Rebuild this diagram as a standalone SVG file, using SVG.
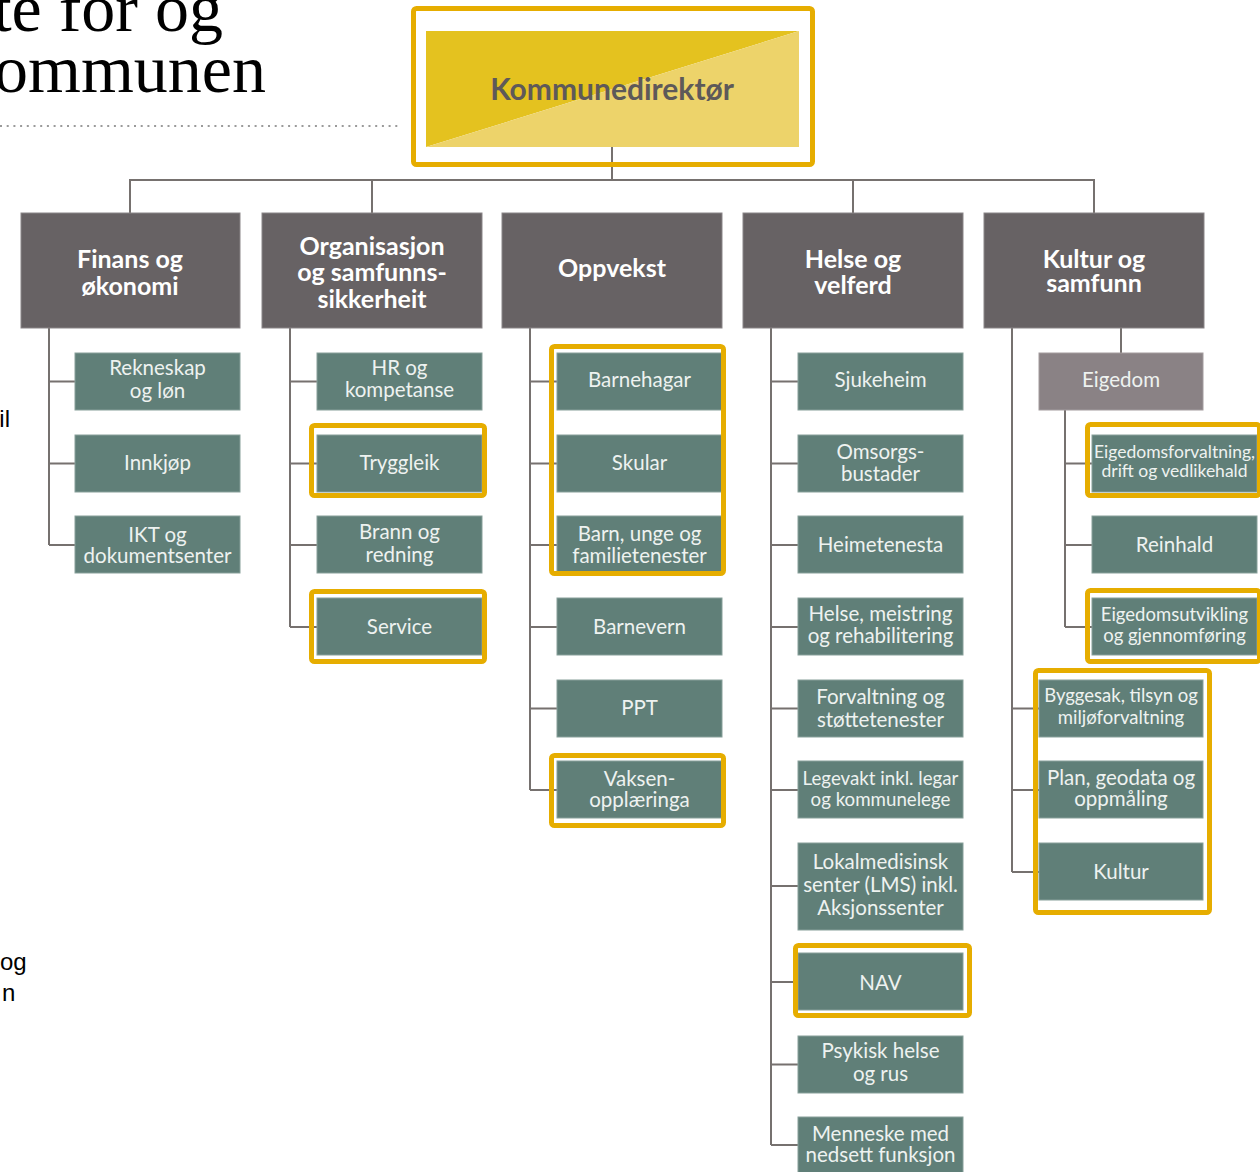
<svg xmlns="http://www.w3.org/2000/svg" width="1260" height="1172" viewBox="0 0 1260 1172">
<style>
.conn{fill:none;stroke:#76716f;stroke-width:2}
.head rect{fill:#676264;stroke:#8a8587;stroke-width:1}
.head text{fill:#ffffff;font-family:Lato,"Open Sans",sans-serif;font-weight:bold;font-size:25px;text-anchor:middle}
.child rect{fill:#607f78;stroke:#87a09a;stroke-width:1}
.child text{fill:#eef2f0;font-family:Lato,"Open Sans",sans-serif;font-size:20.5px;text-anchor:middle}
.child text.s175{font-size:17.5px}
.child text.s185{font-size:18.5px}
.child text.s187{font-size:18.7px}
.sub rect{fill:#8a8285;stroke:#a39c9e;stroke-width:1}
.hl{fill:none;stroke:#e6ad00;stroke-width:5}
.side{fill:#000;font-family:"Liberation Sans",Arial,sans-serif;font-size:24px}
.title{fill:#000;font-family:"Liberation Serif","Times New Roman",serif;font-size:68px}
</style>
<rect width="1260" height="1172" fill="#ffffff"/>
<text class="title" x="223" y="31" text-anchor="end">te for og</text>
<text class="title" x="266" y="92" text-anchor="end">ommunen</text>
<line x1="0" y1="126" x2="402" y2="126" stroke="#9a9a9a" stroke-width="2" stroke-dasharray="2 4.7"/>
<text class="side" x="10" y="427" text-anchor="end">il</text>
<text class="side" x="0" y="970">og</text>
<text class="side" x="2" y="1001">n</text>

<g id="connectors">
<path class="conn" d="M612 147V180M130 213V180H1094V213M372 180V213M853 180V213"/>
<path class="conn" d="M49 328V545M49 381.5H75M49 463.5H75M49 545H75"/>
<path class="conn" d="M290 328V627M290 381.5H317M290 463.5H317M290 545H317M290 627H317"/>
<path class="conn" d="M530 328V790M530 381.5H557M530 463.5H557M530 545H557M530 627H557M530 708.5H557M530 790H557"/>
<path class="conn" d="M771 328V1145M771 381.5H798M771 463.5H798M771 545H798M771 627H798M771 708.5H798M771 790H798M771 886H798M771 982H798M771 1064.5H798M771 1145H798"/>
<path class="conn" d="M1012 328V872M1012 708.5H1039M1012 790H1039M1012 872H1039M1121 328V353M1065 410V627M1065 463.5H1092M1065 545H1092M1065 627H1092"/>
</g>

<g id="kommunedirektor">
<polygon points="426,31 799,31 426,147" fill="#e4c21f"/>
<polygon points="799,31 799,147 426,147" fill="#edd36a"/>
<text x="612" y="100" text-anchor="middle" font-family="Lato,'Open Sans',sans-serif" font-weight="bold" font-size="30" fill="#5e5959">Kommunedirektør</text>
</g>

<g id="finans" class="head"><rect x="21" y="213" width="219" height="115"/><text x="130" y="268">Finans og</text><text x="130" y="295">økonomi</text></g>
<g id="organisasjon" class="head"><rect x="262" y="213" width="220" height="115"/><text x="372" y="255">Organisasjon</text><text x="372" y="281">og samfunns-</text><text x="372" y="308">sikkerheit</text></g>
<g id="oppvekst" class="head"><rect x="502" y="213" width="220" height="115"/><text x="612" y="277">Oppvekst</text></g>
<g id="helse" class="head"><rect x="743" y="213" width="220" height="115"/><text x="853" y="268">Helse og</text><text x="853" y="294">velferd</text></g>
<g id="kultur-samfunn" class="head"><rect x="984" y="213" width="220" height="115"/><text x="1094" y="268">Kultur og</text><text x="1094" y="292">samfunn</text></g>

<g id="rekneskap" class="child"><rect x="75" y="353" width="165" height="57"/><text x="157.5" y="375">Rekneskap</text><text x="157.5" y="398">og løn</text></g>
<g id="innkjop" class="child"><rect x="75" y="435" width="165" height="57"/><text x="157.5" y="470">Innkjøp</text></g>
<g id="ikt" class="child"><rect x="75" y="516" width="165" height="57"/><text x="157.5" y="542">IKT og</text><text x="157.5" y="563">dokumentsenter</text></g>

<g id="hr" class="child"><rect x="317" y="353" width="165" height="57"/><text x="399.5" y="375">HR og</text><text x="399.5" y="397">kompetanse</text></g>
<g id="tryggleik" class="child"><rect x="317" y="435" width="165" height="57"/><text x="399.5" y="470">Tryggleik</text></g>
<g id="brann" class="child"><rect x="317" y="516" width="165" height="57"/><text x="399.5" y="539">Brann og</text><text x="399.5" y="562">redning</text></g>
<g id="service" class="child"><rect x="317" y="598" width="165" height="57"/><text x="399.5" y="634">Service</text></g>

<g id="barnehagar" class="child"><rect x="557" y="353" width="165" height="57"/><text x="639.5" y="387">Barnehagar</text></g>
<g id="skular" class="child"><rect x="557" y="435" width="165" height="57"/><text x="639.5" y="470">Skular</text></g>
<g id="barn-unge" class="child"><rect x="557" y="516" width="165" height="57"/><text x="639.5" y="541">Barn, unge og</text><text x="639.5" y="563">familietenester</text></g>
<g id="barnevern" class="child"><rect x="557" y="598" width="165" height="57"/><text x="639.5" y="634">Barnevern</text></g>
<g id="ppt" class="child"><rect x="557" y="680" width="165" height="57"/><text x="639.5" y="715">PPT</text></g>
<g id="vaksen" class="child"><rect x="557" y="761" width="165" height="57"/><text x="639.5" y="786">Vaksen-</text><text x="639.5" y="807">opplæringa</text></g>

<g id="sjukeheim" class="child"><rect x="798" y="353" width="165" height="57"/><text x="880.5" y="387">Sjukeheim</text></g>
<g id="omsorgsbustader" class="child"><rect x="798" y="435" width="165" height="57"/><text x="880.5" y="459">Omsorgs-</text><text x="880.5" y="481">bustader</text></g>
<g id="heimetenesta" class="child"><rect x="798" y="516" width="165" height="57"/><text x="880.5" y="552">Heimetenesta</text></g>
<g id="helse-meistring" class="child"><rect x="798" y="598" width="165" height="57"/><text x="880.5" y="621">Helse, meistring</text><text x="880.5" y="643">og rehabilitering</text></g>
<g id="forvaltning" class="child"><rect x="798" y="680" width="165" height="57"/><text x="880.5" y="704">Forvaltning og</text><text x="880.5" y="727">støttetenester</text></g>
<g id="legevakt" class="child"><rect x="798" y="761" width="165" height="57"/><text class="s187" x="880.5" y="785">Legevakt inkl. legar</text><text class="s187" x="880.5" y="806">og kommunelege</text></g>
<g id="lms" class="child"><rect x="798" y="843" width="165" height="87"/><text x="880.5" y="869">Lokalmedisinsk</text><text x="880.5" y="892">senter (LMS) inkl.</text><text x="880.5" y="915">Aksjonssenter</text></g>
<g id="nav" class="child"><rect x="798" y="953" width="165" height="57"/><text x="880.5" y="990">NAV</text></g>
<g id="psykisk" class="child"><rect x="798" y="1036" width="165" height="57"/><text x="880.5" y="1058">Psykisk helse</text><text x="880.5" y="1081">og rus</text></g>
<g id="menneske" class="child"><rect x="798" y="1117" width="165" height="57"/><text x="880.5" y="1141">Menneske med</text><text x="880.5" y="1162">nedsett funksjon</text></g>

<g id="eigedom" class="child sub"><rect x="1039" y="353" width="164" height="57"/><text x="1121" y="387">Eigedom</text></g>
<g id="eigedomsforvaltning" class="child"><rect x="1092" y="435" width="165" height="57"/><text class="s175" x="1174.5" y="458">Eigedomsforvaltning,</text><text class="s175" x="1174.5" y="477">drift og vedlikehald</text></g>
<g id="reinhald" class="child"><rect x="1092" y="516" width="165" height="57"/><text x="1174.5" y="552">Reinhald</text></g>
<g id="eigedomsutvikling" class="child"><rect x="1092" y="598" width="165" height="57"/><text class="s185" x="1174.5" y="621">Eigedomsutvikling</text><text class="s185" x="1174.5" y="642">og gjennomføring</text></g>
<g id="byggesak" class="child"><rect x="1039" y="680" width="164" height="57"/><text class="s185" x="1121" y="702">Byggesak, tilsyn og</text><text class="s185" x="1121" y="724">miljøforvaltning</text></g>
<g id="plan" class="child"><rect x="1039" y="761" width="164" height="57"/><text x="1121" y="785">Plan, geodata og</text><text x="1121" y="806">oppmåling</text></g>
<g id="kultur" class="child"><rect x="1039" y="843" width="164" height="57"/><text x="1121" y="879">Kultur</text></g>

<g id="highlights">
<rect class="hl" x="413.5" y="8.5" width="399" height="156" rx="3"/>
<rect class="hl" x="311.5" y="425.5" width="173" height="70" rx="3"/>
<rect class="hl" x="311.5" y="591.5" width="173" height="70" rx="3"/>
<rect class="hl" x="551.5" y="346.5" width="172" height="227" rx="3"/>
<rect class="hl" x="551.5" y="755.5" width="172" height="70" rx="3"/>
<rect class="hl" x="795.5" y="945.5" width="174" height="70" rx="3"/>
<rect class="hl" x="1087.5" y="424.5" width="172" height="71" rx="3"/>
<rect class="hl" x="1087.5" y="590.5" width="172" height="71" rx="3"/>
<rect class="hl" x="1035.5" y="670.5" width="174" height="242" rx="3"/>
</g>
</svg>
